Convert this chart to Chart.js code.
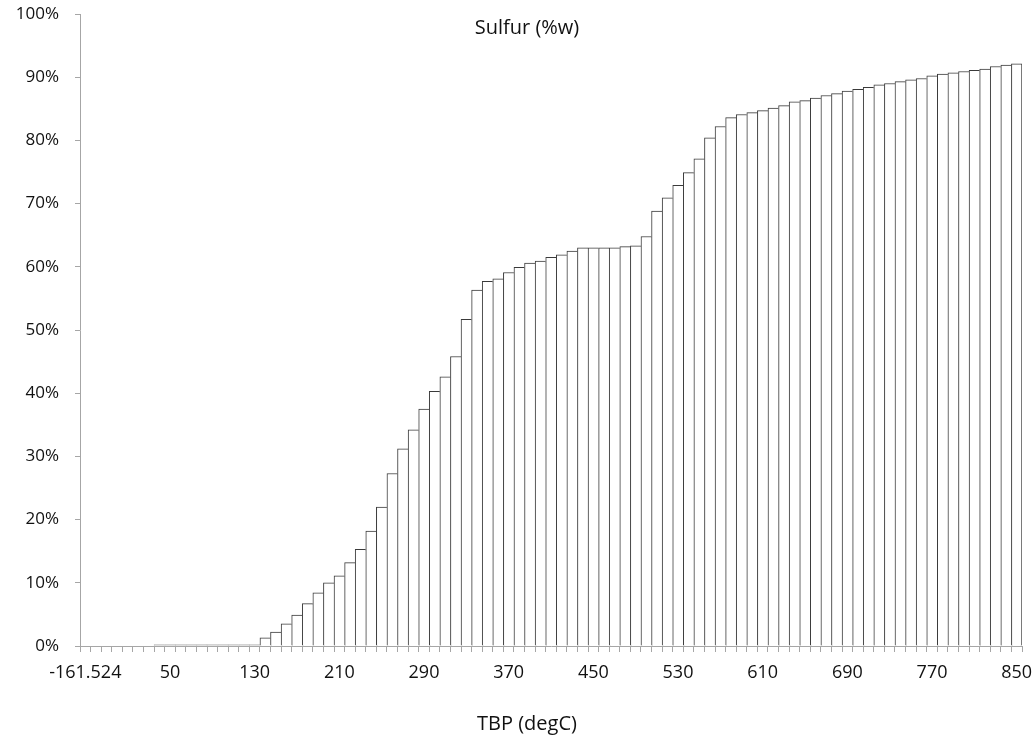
<!DOCTYPE html>
<html>
<head>
<meta charset="utf-8">
<script src="https://cdn.jsdelivr.net/npm/chart.js@4.4.0/dist/chart.umd.min.js"></script>
<style>
  html, body { margin: 0; padding: 0; background: #fff; }
  #wrap { width: 1036px; height: 740px; }
</style>
</head>
<body>
<div id="wrap"><canvas id="sulfurChart" width="1036" height="740"></canvas></div>
<script>
// TBP cut points (categories)
const tbpLabels = [
  '-161.524', '-20', '-10', '0', '10', '20', '30', '40',
  '50', '60', '70', '80', '90', '100', '110', '120',
  '130', '140', '150', '160', '170', '180', '190', '200',
  '210', '220', '230', '240', '250', '260', '270', '280',
  '290', '300', '310', '320', '330', '340', '350', '360',
  '370', '380', '390', '400', '410', '420', '430', '440',
  '450', '460', '470', '480', '490', '500', '510', '520',
  '530', '540', '550', '560', '570', '580', '590', '600',
  '610', '620', '630', '640', '650', '660', '670', '680',
  '690', '700', '710', '720', '730', '740', '750', '760',
  '770', '780', '790', '800', '810', '820', '830', '840',
  '850',
];

// cumulative sulfur, %w
const sulfurValues = [
  0, 0, 0, 0, 0, 0, 0, 0.2,
  0.2, 0.2, 0.2, 0.2, 0.2, 0.2, 0.2, 0.2,
  0.2, 1.3, 2.2, 3.5, 4.9, 6.7, 8.4, 10.0,
  11.1, 13.2, 15.3, 18.2, 22.0, 27.3, 31.2, 34.2,
  37.5, 40.3, 42.6, 45.8, 51.7, 56.3, 57.7, 58.1,
  59.1, 59.9, 60.6, 60.9, 61.5, 61.9, 62.5, 63.0,
  63.0, 63.0, 63.0, 63.2, 63.3, 64.8, 68.8, 70.9,
  72.9, 74.9, 77.1, 80.4, 82.2, 83.6, 84.1, 84.4,
  84.7, 85.1, 85.5, 86.1, 86.3, 86.7, 87.1, 87.4,
  87.8, 88.1, 88.4, 88.8, 89.0, 89.3, 89.6, 89.8,
  90.2, 90.5, 90.7, 90.9, 91.1, 91.3, 91.7, 91.9,
  92.1,
];

// only every 8th category gets a label on the axis
const labelEvery = 8;
const yTicks = [0, 10, 20, 30, 40, 50, 60, 70, 80, 90, 100];

const chartTitle = 'Sulfur (%w)';
const xTitle = 'TBP (degC)';

const FONT = '"Open Sans", "DejaVu Sans", sans-serif';
const TEXT_COLOR = '#111111';
const AXIS_COLOR = '#a6a6a6';
const BAR_EDGE = '#3a3a3a';

// titles are drawn by hand so they can sit where Excel puts them
const titlesPlugin = {
  id: 'excelTitles',
  afterDraw(chart) {
    const ctx = chart.ctx;
    ctx.save();
    ctx.font = '20px ' + FONT;
    ctx.fillStyle = TEXT_COLOR;
    ctx.textAlign = 'center';
    ctx.textBaseline = 'middle';
    ctx.fillText(chartTitle, 527, 28);
    ctx.fillText(xTitle, 527, 724);
    ctx.restore();
  },
};

const lastIndex = sulfurValues.length - 1;

const data = {
  labels: tbpLabels,
  datasets: [
    {
      label: chartTitle,
      data: sulfurValues,
      backgroundColor: '#ffffff',
      borderColor: BAR_EDGE,
      // neighbouring bars share one edge line, like the Excel original
      borderWidth: (c) =>
        c.dataIndex === lastIndex
          ? { top: 1, left: 1, right: 1, bottom: 0 }
          : { top: 1, left: 1, right: 0, bottom: 0 },
      borderSkipped: false,
      barPercentage: 1,
      categoryPercentage: 1,
    },
  ],
};

const config = {
  type: 'bar',
  data: data,
  options: {
    responsive: false,
    animation: false,
    devicePixelRatio: 1,
    layout: { padding: { left: 0, right: 14, top: 14, bottom: 0 } },
    plugins: {
      legend: { display: false },
      title: { display: false },
      tooltip: { enabled: false },
    },
    scales: {
      x: {
        offset: true,
        afterFit(scale) {
          scale.height = 94;
          scale.paddingLeft = 0;
          scale.paddingRight = 0;
        },
        grid: {
          offset: true,
          drawOnChartArea: false,
          drawTicks: true,
          tickLength: 6,
          color: AXIS_COLOR,
        },
        border: { color: AXIS_COLOR, width: 1 },
        ticks: {
          autoSkip: false,
          maxRotation: 0,
          minRotation: 0,
          padding: 10,
          color: TEXT_COLOR,
          font: { family: FONT, size: 18 },
          callback(value, index) {
            return index % labelEvery === 0 ? tbpLabels[index] : '';
          },
        },
      },
      y: {
        min: 0,
        max: 100,
        afterFit(scale) {
          scale.width = 80;
          // don't let the label padding push the plot down
          scale.paddingTop = 0;
          scale.paddingBottom = 0;
        },
        afterBuildTicks(scale) {
          scale.ticks = yTicks.map((v) => ({ value: v }));
        },
        grid: {
          drawOnChartArea: false,
          drawTicks: true,
          tickLength: 5,
          color: AXIS_COLOR,
        },
        border: { color: AXIS_COLOR, width: 1 },
        ticks: {
          padding: 16,
          color: TEXT_COLOR,
          font: { family: FONT, size: 17 },
          callback(value) {
            return value + '%';
          },
        },
      },
    },
  },
  plugins: [titlesPlugin],
};

const sulfurChart = new Chart(document.getElementById('sulfurChart'), config);
</script>
</body>
</html>
